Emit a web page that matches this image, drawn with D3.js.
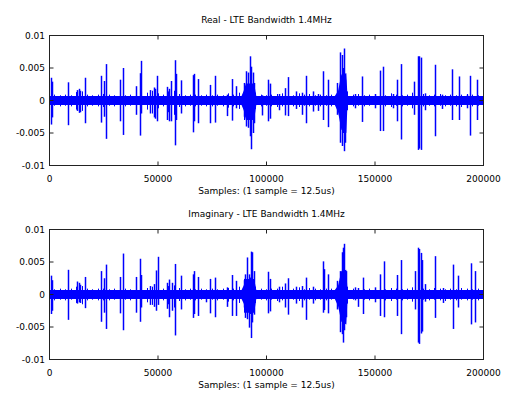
<!DOCTYPE html>
<html>
<head>
<meta charset="utf-8">
<script src="https://cdn.jsdelivr.net/npm/d3@7/dist/d3.min.js"></script>
<style>
body { margin: 0; background: #fff; }
svg text { font-family: "DejaVu Sans", sans-serif; font-size: 9px; fill: #000; }
</style>
</head>
<body>
<div id="chart"></div>
<script>
// axis ticks
var sampleTicks = [0, 50000, 100000, 150000, 200000];
var ampTicks = [-0.01, -0.005, 0, 0.005, 0.01];
var ampTickLabels = ["-0.01", "-0.005", "0", "0.005", "0.01"];

// amplitudes below are in units of 1e-3

// noise floor envelope (dense core of the trace)
var coreX = [0, 88500, 89500, 90500, 94300, 95300, 131500, 133000, 134500, 136800, 137300, 200000];
var realCoreHi = [0.68, 0.68, 1.5, 2.6, 2.6, 0.68, 0.68, 1.5, 4.0, 4.2, 0.68, 0.68];
var realCoreLo = [-0.68, -0.68, -1.5, -3.0, -3.0, -0.68, -0.68, -1.8, -4.5, -5.0, -0.68, -0.68];
var imagCoreHi = [0.68, 0.68, 1.4, 2.4, 2.4, 0.68, 0.68, 1.4, 3.6, 3.8, 0.68, 0.68];
var imagCoreLo = [-0.68, -0.68, -1.4, -2.8, -2.8, -0.68, -0.68, -1.8, -4.2, -4.6, -0.68, -0.68];

// small noise peaks, one every 2500 samples
var fringeX = d3.range(0, 200001, 2500);
var realFringeHi = [
    1.0, 0.9, 0.8, 0.9, 0.8, 1.3, 1.4, 0.9, 0.8, 0.9,
    1.0, 0.9, 0.8, 0.9, 0.8, 0.9, 1.0, 0.9, 1.2, 1.5,
    1.1, 0.9, 1.4, 1.5, 1.0, 0.8, 0.9, 0.9, 0.8, 0.9,
    0.8, 0.9, 0.8, 1.1, 0.9, 1.2, 2.6, 2.8, 1.2, 0.9,
    0.8, 0.9, 1.0, 1.1, 0.9, 0.8, 1.1, 0.9, 1.0, 0.8,
    0.9, 0.8, 0.9, 1.6, 3.8, 1.4, 0.9, 1.0, 0.8, 0.9,
    1.0, 0.9, 0.8, 1.1, 0.9, 0.8, 0.9, 1.2, 0.9, 1.0,
    0.8, 0.9, 1.0, 0.8, 0.9, 0.8, 0.9, 1.0, 0.9, 0.8,
    0.9];
var realFringeLo = [
    -0.9, -0.8, -0.9, -0.8, -0.9, -1.4, -1.6, -0.9, -0.8, -0.9,
    -1.0, -0.8, -0.9, -0.8, -0.9, -0.8, -0.9, -1.0, -1.4, -2.0,
    -1.2, -0.9, -1.8, -2.2, -1.0, -0.9, -0.8, -0.9, -0.8, -0.9,
    -0.9, -0.8, -0.9, -1.1, -0.9, -1.3, -3.0, -3.2, -1.3, -0.9,
    -0.8, -0.9, -1.0, -0.9, -0.8, -0.9, -1.0, -0.8, -0.9, -0.8,
    -0.9, -0.8, -0.9, -2.0, -4.2, -1.5, -0.9, -0.8, -0.9, -0.8,
    -0.9, -0.8, -0.9, -1.0, -0.8, -0.9, -0.8, -1.2, -1.0, -0.9,
    -0.8, -0.9, -0.8, -0.9, -0.8, -0.9, -1.0, -0.8, -0.9, -0.8,
    -0.9];
var imagFringeHi = [
    0.9, 0.8, 0.9, 0.8, 0.9, 1.2, 1.3, 0.9, 0.8, 0.9,
    0.9, 0.8, 0.9, 0.8, 0.9, 0.8, 1.0, 0.9, 1.0, 1.2,
    1.0, 0.9, 1.3, 1.4, 1.0, 0.8, 0.9, 0.8, 0.9, 0.8,
    0.9, 0.8, 0.9, 1.0, 0.9, 1.2, 2.4, 2.6, 1.2, 0.9,
    0.8, 0.9, 0.9, 1.2, 0.8, 0.9, 1.1, 0.8, 1.0, 0.9,
    0.8, 0.9, 0.9, 1.5, 3.5, 1.2, 0.9, 1.0, 0.8, 0.9,
    1.0, 0.9, 0.8, 1.0, 0.9, 0.8, 0.9, 1.1, 1.0, 0.9,
    0.8, 1.0, 0.9, 0.8, 0.9, 0.8, 1.0, 0.9, 0.8, 0.9,
    0.9];
var imagFringeLo = [
    -0.9, -0.9, -0.8, -0.9, -0.8, -1.3, -1.5, -0.9, -0.8, -0.9,
    -0.9, -0.9, -0.8, -0.9, -0.8, -0.9, -0.8, -1.0, -1.2, -1.6,
    -1.1, -0.9, -1.5, -2.0, -1.0, -0.9, -0.8, -0.9, -0.8, -0.9,
    -0.8, -0.9, -0.8, -1.1, -0.9, -1.3, -2.8, -3.0, -1.3, -0.8,
    -0.9, -0.8, -1.0, -0.9, -0.9, -0.8, -1.0, -0.9, -0.8, -0.9,
    -0.8, -0.9, -0.8, -1.9, -4.0, -1.4, -0.8, -0.9, -0.8, -0.9,
    -0.8, -0.9, -0.9, -1.0, -0.8, -0.9, -0.8, -1.1, -0.9, -0.8,
    -0.9, -0.8, -0.9, -1.0, -0.8, -0.9, -0.8, -0.9, -0.8, -0.9,
    -0.9];

// bursts (sample index, max, min)
var realSpikeX = [800, 1500, 8600, 12800, 13600, 14300, 16400, 24100, 25200, 26300,
    32600, 34100, 40200, 41800, 42500, 46500, 48200, 49000, 49900, 54400,
    55300, 56200, 57900, 58500, 60800, 66300, 66800, 68700, 74300, 76400,
    82000, 84500, 86200, 89800, 90800, 91500, 92600, 93200, 93900, 94600,
    98000, 101000, 101800, 106100, 108700, 110300, 113800, 116400, 118300, 121500,
    123800, 126400, 128400, 132500, 134100, 134900, 135500, 135900, 136400, 141000,
    144400, 150200, 152500, 154100, 158700, 160500, 162300, 168300, 170200, 170700,
    171300, 173200, 177900, 181200, 185900, 189100, 192600, 194200, 197100];
var realSpikeHi = [3.5, 2.9, 2.8, 1.6, 1.8, 1.5, 3.5, 3.8, 3.0, 5.6,
    3.2, 5.0, 2.2, 4.2, 6.1, 1.6, 2.0, 1.8, 3.8, 2.1,
    1.8, 3.0, 6.2, 4.1, 3.1, 3.9, 4.1, 3.3, 2.4, 3.8,
    0.9, 3.3, 2.2, 2.7, 4.5, 4.3, 6.8, 5.2, 4.3, 2.7,
    0.8, 3.2, 2.6, 1.0, 1.9, 3.6, 1.4, 1.2, 3.8, 1.4,
    1.0, 4.5, 3.2, 2.7, 7.4, 7.0, 5.0, 8.0, 3.2, 1.0,
    3.7, 1.0, 4.6, 5.2, 1.0, 3.2, 5.6, 2.9, 6.8, 6.8,
    6.6, 1.1, 5.5, 0.9, 4.8, 3.7, 0.9, 3.8, 3.2];
var realSpikeLo = [-3.7, -2.6, -3.8, -1.6, -1.9, -1.8, -3.5, -3.4, -2.5, -5.9,
    -3.2, -5.3, -2.2, -5.4, -2.0, -2.0, -2.6, -2.8, -3.2, -3.0,
    -3.2, -3.2, -6.9, -3.0, -2.0, -4.9, -3.2, -3.5, -3.5, -3.4,
    -2.4, -3.1, -1.2, -2.5, -4.0, -4.2, -5.5, -7.5, -5.0, -3.5,
    -2.3, -3.2, -2.8, -1.5, -2.3, -2.4, -1.3, -2.2, -3.5, -1.7,
    -1.6, -3.0, -4.1, -2.2, -6.5, -7.0, -5.0, -7.8, -6.5, -1.2,
    -3.3, -1.2, -4.7, -4.7, -1.2, -3.2, -6.0, -2.2, -7.6, -7.4,
    -7.6, -1.5, -5.5, -1.3, -3.0, -3.0, -1.2, -5.4, -3.0];

var imagSpikeX = [800, 1500, 8600, 12800, 13600, 14300, 16400, 24100, 25300, 26300,
    32600, 34100, 40200, 41800, 42400, 46500, 48200, 49300, 50000, 54400,
    55500, 56500, 57900, 60800, 66300, 66800, 68700, 72300, 74300, 76400,
    82000, 84500, 86200, 89800, 90300, 91200, 92300, 93100, 93500, 94300,
    101000, 101800, 106100, 108700, 110300, 113800, 116400, 118300, 121500, 126400,
    126900, 128400, 132500, 134100, 134900, 135600, 136100, 136700, 141000, 142500,
    144700, 150200, 152400, 154200, 160500, 162400, 168700, 170200, 170700, 171300,
    172000, 173300, 178000, 181700, 186200, 188600, 194300, 196500];
var imagSpikeHi = [2.9, 2.2, 3.8, 2.0, 1.8, 1.5, 2.7, 3.6, 2.5, 4.6,
    2.7, 6.3, 2.7, 5.5, 3.0, 1.3, 1.6, 3.7, 5.8, 1.8,
    2.3, 1.8, 4.7, 2.9, 3.1, 3.6, 2.7, 0.6, 2.4, 2.6,
    1.1, 3.0, 2.1, 2.2, 3.1, 5.7, 3.1, 6.6, 6.5, 3.6,
    3.5, 2.4, 1.2, 1.7, 2.5, 1.2, 1.3, 2.6, 1.2, 5.1,
    3.9, 3.1, 2.1, 3.6, 6.5, 7.2, 7.8, 3.6, 1.1, 1.0,
    2.6, 1.1, 3.1, 5.1, 3.0, 5.3, 3.6, 7.2, 7.0, 6.4,
    5.3, 1.6, 5.9, 1.0, 4.6, 2.9, 4.8, 3.6];
var imagSpikeLo = [-3.0, -2.5, -3.9, -1.4, -1.2, -1.3, -2.1, -4.2, -2.8, -5.3,
    -2.9, -5.5, -2.8, -4.2, -2.0, -1.6, -1.9, -2.5, -1.6, -2.2,
    -3.5, -2.5, -6.3, -2.3, -3.6, -3.0, -3.3, -1.2, -2.9, -3.5,
    -1.9, -3.3, -3.3, -2.0, -3.6, -3.8, -5.1, -6.7, -4.3, -3.1,
    -2.9, -2.6, -1.2, -2.0, -3.1, -1.4, -2.0, -3.9, -1.4, -2.8,
    -2.4, -2.9, -2.3, -5.8, -6.1, -7.4, -5.5, -3.5, -0.9, -1.9,
    -3.0, -1.2, -3.3, -3.5, -3.3, -6.1, -2.3, -7.4, -7.6, -6.0,
    -5.7, -1.1, -3.6, -1.3, -5.3, -2.0, -4.6, -4.3];

var titles = ["Real - LTE Bandwidth 1.4MHz", "Imaginary - LTE Bandwidth 1.4MHz"];
var xLabel = "Samples: (1 sample = 12.5us)";

function zip(xs, hi, lo) {
    return xs.map(function (x, i) { return { x: x, hi: hi[i] / 1000, lo: lo[i] / 1000 }; });
}

function signalChart() {
    var
        width = 434,
        height = 130,
        title = "",
        color = "#0000ff",
        xScale = d3.scaleLinear().domain([0, 200000]),
        yScale = d3.scaleLinear().domain([-0.01, 0.01]);

    function chart(selection) {
        selection.each(function (data) {
            var g = d3.select(this);
            xScale.range([0, width]);
            yScale.range([height, 0]);

            var plot = g.append("g");

            // dense noise core
            var area = d3.area()
                .x(function (d) { return xScale(d.x); })
                .y0(function (d) { return yScale(d.lo); })
                .y1(function (d) { return yScale(d.hi); });
            plot.append("path")
                .datum(data.core)
                .attr("d", area)
                .attr("fill", color);

            // small noise peaks, one pixel wide
            plot.selectAll(".fringe")
                .data(data.fringe)
                .enter().append("line")
                .attr("class", "fringe")
                .attr("x1", X)
                .attr("x2", X)
                .attr("y1", function (d) { return yScale(d.hi); })
                .attr("y2", function (d) { return yScale(d.lo); })
                .attr("stroke", color)
                .attr("stroke-width", 1);

            // bursts
            plot.selectAll(".spike")
                .data(data.spikes)
                .enter().append("line")
                .attr("class", "spike")
                .attr("x1", X)
                .attr("x2", X)
                .attr("y1", function (d) { return yScale(d.hi); })
                .attr("y2", function (d) { return yScale(d.lo); })
                .attr("stroke", color)
                .attr("stroke-width", 1.5);

            // box
            g.append("rect")
                .attr("width", width)
                .attr("height", height)
                .attr("fill", "none")
                .attr("stroke", "#222")
                .attr("stroke-width", 1);

            // ticks on all four sides, pointing in
            var tk = 4;
            g.selectAll(".xtb").data(sampleTicks).enter().append("line")
                .attr("x1", xScale).attr("x2", xScale)
                .attr("y1", height).attr("y2", height - tk)
                .attr("stroke", "#222");
            g.selectAll(".xtt").data(sampleTicks).enter().append("line")
                .attr("x1", xScale).attr("x2", xScale)
                .attr("y1", 0).attr("y2", tk)
                .attr("stroke", "#222");
            g.selectAll(".ytl").data(ampTicks).enter().append("line")
                .attr("y1", yScale).attr("y2", yScale)
                .attr("x1", 0).attr("x2", tk)
                .attr("stroke", "#222");
            g.selectAll(".ytr").data(ampTicks).enter().append("line")
                .attr("y1", yScale).attr("y2", yScale)
                .attr("x1", width).attr("x2", width - tk)
                .attr("stroke", "#222");

            g.selectAll(".xlab").data(sampleTicks).enter().append("text")
                .attr("x", xScale)
                .attr("y", height + 16)
                .attr("text-anchor", "middle")
                .text(function (d) { return d; });
            g.selectAll(".ylab").data(ampTicks).enter().append("text")
                .attr("x", -4.5)
                .attr("y", yScale)
                .attr("dy", "0.35em")
                .attr("text-anchor", "end")
                .text(function (d, i) { return ampTickLabels[i]; });

            g.append("text")
                .attr("x", width / 2)
                .attr("y", -12.5)
                .attr("text-anchor", "middle")
                .text(title);
            g.append("text")
                .attr("x", width / 2)
                .attr("y", height + 28.5)
                .attr("text-anchor", "middle")
                .text(xLabel);
        });
    }

    // pixel-snapped x of a sample
    function X(d) {
        return Math.round(xScale(d.x));
    }

    chart.width = function (_) {
        if (!arguments.length) return width;
        width = _;
        return chart;
    };

    chart.height = function (_) {
        if (!arguments.length) return height;
        height = _;
        return chart;
    };

    chart.title = function (_) {
        if (!arguments.length) return title;
        title = _;
        return chart;
    };

    return chart;
}

var svg = d3.select("#chart").append("svg")
    .attr("width", 509)
    .attr("height", 398);

var panels = [
    { top: 35.5, title: titles[0],
      core: zip(coreX, realCoreHi, realCoreLo),
      fringe: zip(fringeX, realFringeHi, realFringeLo),
      spikes: zip(realSpikeX, realSpikeHi, realSpikeLo) },
    { top: 229.5, title: titles[1],
      core: zip(coreX, imagCoreHi, imagCoreLo),
      fringe: zip(fringeX, imagFringeHi, imagFringeLo),
      spikes: zip(imagSpikeX, imagSpikeHi, imagSpikeLo) }
];

panels.forEach(function (p) {
    svg.append("g")
        .attr("transform", "translate(49.5," + p.top + ")")
        .datum(p)
        .call(signalChart().title(p.title));
});
</script>
</body>
</html>
